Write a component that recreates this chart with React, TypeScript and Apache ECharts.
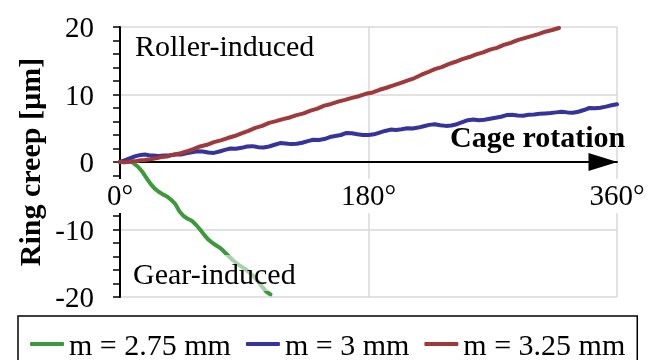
import React, { useEffect, useRef } from "react";
import * as echarts from "echarts";

const FONT = "'Liberation Serif', 'Times New Roman', serif";

const seriesNames = ["m = 2.75 mm", "m = 3 mm", "m = 3.25 mm"];
const seriesColors = ["#3D9A3A", "#34349C", "#A0393A"];

const greenAngles = [0, 2, 4, 7, 10, 13, 16, 19, 22, 25, 28, 31, 34, 37, 40, 43, 46, 49, 52, 55, 58, 61, 64, 67, 70, 73, 76, 79, 82, 85, 88, 91, 94, 97, 100, 103, 106, 108, 109];
const greenValues = [0, 0.15, 0.25, 0.15, -0.2, -0.7, -1.4, -2.3, -3.2, -3.9, -4.4, -4.8, -5.1, -5.6, -6.2, -7.3, -8.0, -8.4, -8.7, -9.3, -10.0, -10.8, -11.5, -12.0, -12.4, -12.8, -13.4, -14.0, -14.6, -15.1, -15.5, -15.9, -16.4, -17.0, -17.7, -18.5, -19.2, -19.5, -19.6];

const blueAngles = [0, 3, 6, 9, 12, 15, 18, 21, 24, 28, 32, 36, 40, 44, 48, 52, 56, 60, 64, 68, 72, 76, 80, 84, 88, 92, 96, 100, 104, 108, 112, 116, 120, 124, 128, 132, 136, 140, 144, 148, 152, 156, 160, 164, 168, 172, 176, 180, 184, 188, 192, 196, 200, 204, 208, 212, 216, 220, 224, 228, 232, 236, 240, 244, 248, 252, 256, 260, 264, 268, 272, 276, 280, 284, 288, 292, 296, 300, 304, 308, 312, 316, 320, 324, 328, 332, 336, 340, 344, 348, 352, 356, 360];
const blueValues = [0, 0.2, 0.45, 0.7, 0.9, 1.05, 1.1, 1.0, 0.95, 0.9, 0.95, 1.0, 1.1, 1.1, 1.3, 1.45, 1.6, 1.55, 1.4, 1.35, 1.55, 1.8, 2.0, 1.95, 2.1, 2.3, 2.35, 2.2, 2.15, 2.3, 2.55, 2.8, 2.75, 2.65, 2.7, 2.85, 3.1, 3.3, 3.25, 3.4, 3.7, 3.85, 4.0, 4.3, 4.25, 4.1, 4.0, 4.0, 4.1, 4.35, 4.6, 4.8, 4.75, 4.85, 5.0, 4.95, 5.1, 5.3, 5.5, 5.6, 5.45, 5.35, 5.4, 5.6, 5.9, 6.2, 6.3, 6.2, 6.25, 6.4, 6.55, 6.7, 6.95, 7.0, 6.9, 6.85, 7.0, 7.05, 7.15, 7.2, 7.25, 7.35, 7.45, 7.35, 7.3, 7.45, 7.7, 8.0, 7.95, 8.05, 8.2, 8.4, 8.55];

const redAngles = [0, 3, 6, 9, 12, 15, 18, 22, 26, 30, 34, 38, 43, 48, 53, 58, 63, 68, 73, 78, 83, 88, 93, 98, 103, 108, 113, 118, 123, 128, 133, 138, 143, 148, 153, 158, 163, 168, 173, 178, 183, 188, 193, 198, 203, 208, 213, 218, 223, 228, 233, 238, 243, 248, 253, 258, 263, 268, 273, 278, 283, 288, 293, 298, 303, 308, 313, 318];
const redValues = [0, -0.05, 0.0, 0.1, 0.15, 0.25, 0.3, 0.4, 0.55, 0.75, 0.8, 1.05, 1.25, 1.55, 1.9, 2.3, 2.55, 2.95, 3.2, 3.55, 3.85, 4.25, 4.6, 5.05, 5.35, 5.8, 6.05, 6.35, 6.6, 6.95, 7.2, 7.6, 7.9, 8.35, 8.6, 8.95, 9.2, 9.5, 9.75, 10.1, 10.3, 10.7, 11.0, 11.35, 11.7, 12.05, 12.4, 12.9, 13.3, 13.75, 14.05, 14.5, 14.85, 15.25, 15.55, 15.95, 16.25, 16.65, 16.9, 17.35, 17.65, 18.05, 18.35, 18.65, 18.95, 19.3, 19.55, 19.85];

const xMin = 0;
const xMax = 360;
const xInterval = 180;
const yMin = -20;
const yMax = 20;
const yInterval = 10;

const annotations = ["Roller-induced", "Gear-induced", "Cage rotation"];
const yAxisTitle = "Ring creep [µm]";

function pairs(xs: number[], ys: number[]) {
  return xs.map((x, i) => [x, ys[i]]);
}

export default function App() {
  const ref = useRef<HTMLDivElement>(null);
  useEffect(() => {
    if (!ref.current) return;
    const chart = echarts.init(ref.current, null, { renderer: "svg" });
    const seriesData = [pairs(greenAngles, greenValues), pairs(blueAngles, blueValues), pairs(redAngles, redValues)];
    chart.setOption({
      animation: false,
      textStyle: { fontFamily: FONT },
      grid: { left: 120, right: 40, top: 27, bottom: 63, containLabel: false },
      xAxis: {
        type: "value",
        min: xMin,
        max: xMax,
        interval: xInterval,
        z: 1,
        axisLine: {
          onZero: true,
          lineStyle: { color: "#000", width: 2 },
          symbol: ["none", "triangle"],
          symbolSize: [18, 29],
          symbolOffset: [0, -14],
        },
        axisTick: { show: false },
        axisLabel: {
          color: "#000",
          fontSize: 29,
          fontFamily: FONT,
          margin: -118,
          backgroundColor: "#fff",
          padding: [1, 4, 3, 4],
          lineHeight: 30,
          formatter: (v: number) => v + "°",
        },
        splitLine: { show: true, showMinLine: false, lineStyle: { color: "#d9d9d9", width: 1.5 } },
      },
      yAxis: {
        type: "value",
        min: yMin,
        max: yMax,
        interval: yInterval,
        z: 0,
        name: yAxisTitle,
        nameLocation: "middle",
        nameGap: 73,
        nameTextStyle: { color: "#000", fontSize: 30, fontWeight: "bold", fontFamily: FONT },
        axisLine: { onZero: false, lineStyle: { color: "#000", width: 2 } },
        axisTick: { show: true, inside: false, length: 7, lineStyle: { color: "#000", width: 1.5 } },
        minorTick: { show: true, splitNumber: 5, length: 7, lineStyle: { color: "#000", width: 1.5 } },
        axisLabel: { color: "#000", fontSize: 29, fontFamily: FONT, margin: 26 },
        splitLine: { show: true, lineStyle: { color: "#d9d9d9", width: 1.5 } },
      },
      legend: {
        data: seriesNames,
        left: 18,
        top: 316,
        padding: [13, 12, 13, 12],
        itemGap: 15,
        itemWidth: 34,
        itemHeight: 4,
        icon: "roundRect",
        borderColor: "#000",
        borderWidth: 1.5,
        textStyle: { color: "#000", fontSize: 30, fontFamily: FONT },
      },
      graphic: [
        {
          type: "text",
          left: 135,
          top: 30,
          z: 10,
          style: { text: annotations[0], fill: "#000", font: `30px ${FONT}` },
        },
        {
          type: "text",
          left: 128,
          top: 255,
          z: 10,
          style: {
            text: annotations[1],
            fill: "#000",
            font: `30px ${FONT}`,
            backgroundColor: "rgba(255,255,255,0.55)",
            padding: [3, 5, 3, 5],
          },
        },
        {
          type: "text",
          left: 450,
          top: 121,
          z: 10,
          style: { text: annotations[2], fill: "#000", font: `bold 30px ${FONT}` },
        },
      ],
      series: seriesNames.map((name, i) => ({
        name,
        type: "line",
        data: seriesData[i],
        showSymbol: false,
        symbol: "none",
        z: 2,
        color: seriesColors[i],
        lineStyle: { color: seriesColors[i], width: 4, cap: "round", join: "round" },
      })),
    });
    return () => chart.dispose();
  }, []);
  return <div ref={ref} style={{ position: "fixed", left: 0, top: 0, width: 657, height: 360 }} />;
}
